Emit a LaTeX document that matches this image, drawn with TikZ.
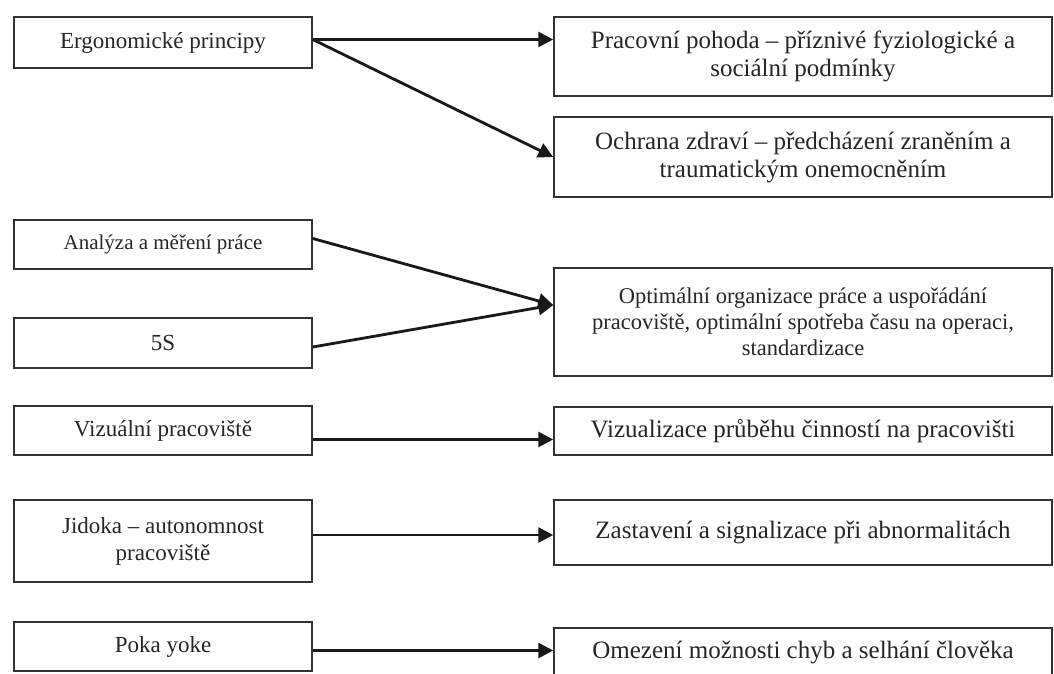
\documentclass[tikz,border=0pt]{standalone}
\usepackage{fontspec}
\setmainfont{Liberation Serif}
\usetikzlibrary{arrows.meta}

\begin{document}
\begin{tikzpicture}[x=1pt, y=-1pt,
		box/.style={draw=black!80, line width=1.5pt, text=black!85, align=center, inner sep=0pt, font=\fontsize{23}{27}\selectfont},
		leftbox/.style={box, minimum width=298pt},
		rightbox/.style={box, minimum width=498pt, font=\fontsize{25}{28}\selectfont},
		arr/.style={-{Triangle[length=15pt,width=15pt]}, line width=2.8pt, black!90}]
			\clip (0,0) rectangle (1054,674);
			\fill[white] (0,0) rectangle (1054,674);
			\node[leftbox, minimum height=51pt] (ergo) at (163,42.5) {Ergonomické principy};
			\node[leftbox, minimum height=49pt, font=\fontsize{21}{25}\selectfont] (analyza) at (163,244.5) {Analýza a měření práce};
			\node[leftbox, minimum height=50pt] (five) at (163,343) {5S};
			\node[leftbox, minimum height=49pt] (vizual) at (163,430.5) {Vizuální pracoviště};
			\node[leftbox, minimum height=82pt] (jidoka) at (163,541) {Jidoka – autonomnost\\pracoviště};
			\node[leftbox, minimum height=49pt] (poka) at (163,646.5) {Poka yoke};
			\node[rightbox, minimum height=79pt] (pohoda) at (803,56.5) {Pracovní pohoda – příznivé fyziologické a\\sociální podmínky};
			\node[rightbox, minimum height=80pt] (ochrana) at (803,157) {Ochrana zdraví – předcházení zraněním a\\traumatickým onemocněním};
			\node[rightbox, minimum height=108pt, font=\fontsize{22.5}{26}\selectfont] (optim) at (803,322) {Optimální organizace práce a uspořádání\\pracoviště, optimální spotřeba času na operaci,\\standardizace};
			\node[rightbox, minimum height=48pt] (vizualiz) at (803,431) {Vizualizace průběhu činností na pracovišti};
			\node[rightbox, minimum height=65pt] (zastav) at (803,532.5) {Zastavení a signalizace při abnormalitách};
			\node[rightbox, minimum height=48pt] (omezeni) at (803,652) {Omezení možnosti chyb a selhání člověka};
			\coordinate (ergoout) at ([yshift=3pt]ergo.east);
			\coordinate (analyzaout) at ([yshift=6pt]analyza.east);
			\coordinate (fiveout) at ([yshift=-4pt]five.east);
			\coordinate (optimin) at ([yshift=17pt]optim.west);
			\coordinate (vizualout) at ([yshift=-9pt]vizual.east);
			\coordinate (jidokaout) at ([yshift=6pt]jidoka.east);
			\coordinate (pokaout) at ([yshift=-4pt]poka.east);
			\draw[arr] (ergoout) -- (pohoda.west |- ergoout);
			\draw[arr] (ergoout) -- (ochrana.west);
			\draw[arr] (analyzaout) -- (optimin);
			\draw[arr] (fiveout) -- (optimin);
			\draw[arr] (vizualout) -- (vizualiz.west |- vizualout);
			\draw[arr] (jidokaout) -- (zastav.west |- jidokaout);
			\draw[arr] (pokaout) -- (omezeni.west |- pokaout);
			\end{tikzpicture}
\end{document}
